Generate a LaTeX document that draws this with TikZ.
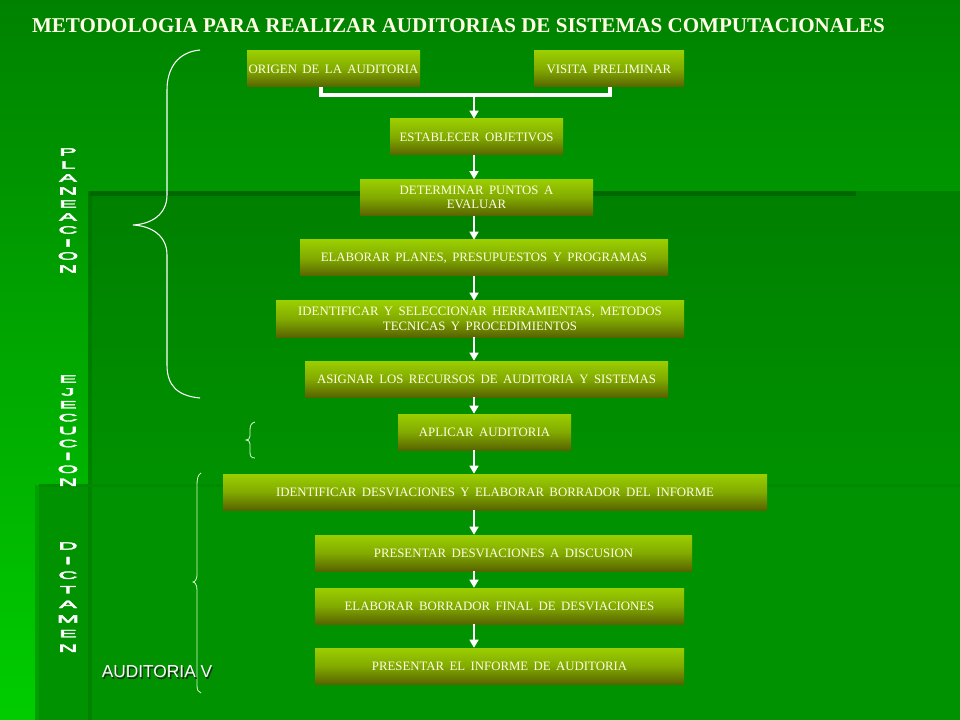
\documentclass[tikz,border=0pt]{standalone}
\usepackage{fontspec}
\setmainfont{Liberation Serif}
\newfontfamily\boxfont{Liberation Serif}[WordSpace=1.7]
\newfontfamily\sansfont{Liberation Sans}
\newfontfamily\heavysans{Liberation Sans}[FakeBold=3]
\usetikzlibrary{arrows.meta}
\definecolor{boxtop}{RGB}{155,206,0}
\definecolor{boxmid}{RGB}{130,170,0}
\definecolor{boxbot}{RGB}{88,100,0}
\definecolor{txt}{RGB}{255,255,230}
\definecolor{edge}{RGB}{0,104,0}
\definecolor{bgAtop}{RGB}{0,130,0}
\definecolor{bgAbot}{RGB}{0,205,0}
\definecolor{bgBtop}{RGB}{0,128,0}
\definecolor{bgBbot}{RGB}{0,160,0}
\definecolor{stripBtop}{RGB}{0,118,0}
\definecolor{stripBbot}{RGB}{0,140,0}
\definecolor{bgC}{RGB}{0,146,0}
\definecolor{stripC}{RGB}{0,160,0}
\definecolor{stripD}{RGB}{0,132,0}
\definecolor{lineC}{RGB}{0,138,0}
\definecolor{sbracecol}{RGB}{220,255,210}
\definecolor{shadowcol}{RGB}{20,50,20}
\tikzset{
  box/.style={rectangle, inner sep=0pt, minimum height=27pt,
    top color=boxtop, bottom color=boxbot, middle color=boxmid,
    text=txt, font=\boxfont\fontsize{9.6}{11}\selectfont, align=center},
  bw/.style={minimum width=#1*0.75pt},
  arr/.style={draw=white, line width=2.2pt, -{Triangle[width=6.6pt,length=6pt]}},
  elbow/.style={draw=white, line width=2.4pt},
  vlet/.style={text=white, inner sep=0pt, xscale=2.5, font=\heavysans\fontsize{8}{9}\selectfont},
  brace/.style={draw=white, line width=0.8pt},
  sbrace/.style={draw=sbracecol, line width=0.6pt}
}
\begin{document}
\begin{tikzpicture}[x=0.75pt,y=-0.75pt]
\useasboundingbox (0,0) rectangle (960,720);
% background layers
\fill[top color=bgAtop, bottom color=bgAbot] (0,0) rectangle (960,720);
\fill[top color=bgBtop, bottom color=bgBbot] (90,192) rectangle (960,720);
\fill[top color=stripBtop, bottom color=stripBbot] (88,192) rectangle (92,720);
\fill[bgC] (35,485) rectangle (960,720);
\fill[stripC] (35,485) rectangle (39,720);
\fill[stripD] (88,485) rectangle (92,720);
\fill[lineC] (39,484) rectangle (960,487);
\fill[edge] (90,191.5) rectangle (856,196);

% title
\node[text=txt, inner sep=0pt, font=\bfseries\fontsize{15.8}{18}\selectfont] (title) at (458.5,26) {METODOLOGIA PARA REALIZAR AUDITORIAS DE SISTEMAS COMPUTACIONALES};

% boxes
\node[box, bw=173] (orig) at (333.5,69) {ORIGEN DE LA AUDITORIA};
\node[box, bw=150] (visit) at (609,69) {VISITA  PRELIMINAR};
\node[box, bw=173] (estab) at (476.5,137) {ESTABLECER OBJETIVOS};
\node[box, bw=233] (determ) at (476.5,197.5) {DETERMINAR PUNTOS  A\\EVALUAR};
\node[box, bw=368] (elab) at (484,258) {ELABORAR PLANES,  PRESUPUESTOS  Y  PROGRAMAS};
\node[box, bw=408] (ident) at (480,319) {IDENTIFICAR Y SELECCIONAR HERRAMIENTAS, METODOS\\TECNICAS Y PROCEDIMIENTOS};
\node[box, bw=363] (asig) at (486.5,379) {ASIGNAR  LOS RECURSOS DE AUDITORIA  Y SISTEMAS};
\node[box, bw=173] (aplic) at (484.5,432) {APLICAR AUDITORIA};
\node[box, bw=544] (idesv) at (495,492) {IDENTIFICAR DESVIACIONES  Y ELABORAR BORRADOR  DEL INFORME};
\node[box, bw=377] (pres) at (503.5,553) {PRESENTAR DESVIACIONES  A DISCUSION};
\node[box, bw=369] (elabb) at (499.5,606) {ELABORAR BORRADOR FINAL DE DESVIACIONES};
\node[box, bw=369] (presi) at (499.5,666) {PRESENTAR EL INFORME  DE AUDITORIA};

% connectors
\coordinate (ax) at (474,0);
\coordinate (jl) at (321,95);
\coordinate (jr) at (610,95);
\coordinate (jm) at (474,95);
\draw[elbow] (orig.south -| jl) -- (jl) -- (jr) -- (visit.south -| jr);
\draw[arr] (jm) -- (estab.north -| ax);
\draw[arr] (estab.south -| ax) -- (determ.north -| ax);
\draw[arr] (determ.south -| ax) -- (elab.north -| ax);
\draw[arr] (elab.south -| ax) -- (ident.north -| ax);
\draw[arr] (ident.south -| ax) -- (asig.north -| ax);
\draw[arr] (asig.south -| ax) -- (aplic.north -| ax);
\draw[arr] (aplic.south -| ax) -- (idesv.north -| ax);
\draw[arr] (idesv.south -| ax) -- (pres.north -| ax);
\draw[arr] (pres.south -| ax) -- (elabb.north -| ax);
\draw[arr] (elabb.south -| ax) -- (presi.north -| ax);

% braces
\draw[brace] (200,50) .. controls (178,52) and (167,68) .. (167,90) -- (167,195)
  .. controls (167,214) and (152,224) .. (133,225)
  .. controls (152,226) and (167,236) .. (167,255) -- (167,365)
  .. controls (167,386) and (178,396) .. (200,398);
\draw[sbrace] (255,422) .. controls (251,423) and (250,426) .. (250,430) -- (250,436)
  .. controls (250,439) and (248,440) .. (246,440)
  .. controls (248,440) and (250,441) .. (250,444) -- (250,452)
  .. controls (250,456) and (251,458) .. (255,458);
\draw[sbrace] (201,473) .. controls (198,475) and (197,478) .. (197,486) -- (197,575)
  .. controls (197,579) and (195,582) .. (193,582)
  .. controls (195,582) and (197,585) .. (197,590) -- (197,685)
  .. controls (197,690) and (198,692) .. (201,693);

% vertical phase labels
\foreach \l [count=\i] in {P,L,A,N,E,A,C,I,O,N}
  \node[vlet] (pl\i) at (68,{152+13*(\i-1)}) {\l};
\foreach \l [count=\i] in {E,J,E,C,U,C,I,O,N}
  \node[vlet] (ej\i) at (68,{379+12.9*(\i-1)}) {\l};
\foreach \l [count=\i] in {D,I,C,T,A,M,E,N}
  \node[vlet] (di\i) at (68,{546+14.6*(\i-1)}) {\l};

% footer
\node[text=shadowcol, inner sep=0pt, font=\sansfont\fontsize{13}{15}\selectfont] (footsh) at (158.3,673.3) {AUDITORIA V};
\node[text=white, inner sep=0pt, font=\sansfont\fontsize{13}{15}\selectfont] (foot) at (157,672) {AUDITORIA V};
\end{tikzpicture}
\end{document}
